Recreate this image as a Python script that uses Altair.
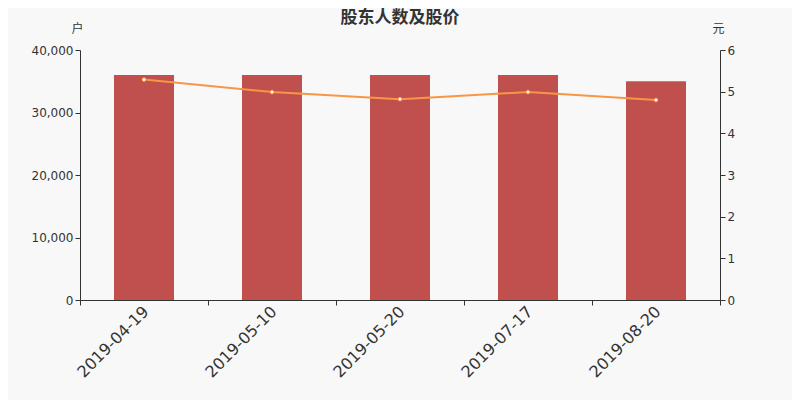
import altair as alt
import pandas as pd

dates = ["2019-04-19", "2019-05-10", "2019-05-20", "2019-07-17", "2019-08-20"]
holders = [36000, 36000, 36000, 36000, 35000]
prices = [5.29, 4.99, 4.82, 4.99, 4.80]

df = pd.DataFrame({"date": dates, "holders": holders, "price": prices})

FONT = "DejaVu Sans, Noto Sans CJK SC, sans-serif"

x = alt.X("date:N", sort=dates, title=None,
          scale=alt.Scale(paddingInner=0, paddingOuter=0),
          axis=alt.Axis(labelAngle=-45, labelFontSize=16, labelColor="#333",
                        tickBand="extent", domainColor="#333", tickColor="#333",
                        labelPadding=-2, labelOffset=-4))

bars = alt.Chart(df).mark_bar(color="#c0504d", size=60).encode(
    x=x,
    y=alt.Y("holders:Q", scale=alt.Scale(domain=[0, 40000]),
            axis=alt.Axis(values=[0, 10000, 20000, 30000, 40000], format=",d",
                          title="户", titleAngle=0, titleAlign="center",
                          titleBaseline="middle", titleX=-3, titleY=-22,
                          titleFontWeight="normal", titleFontSize=12,
                          labelFontSize=12, labelColor="#333", titleColor="#333",
                          domainColor="#333", tickColor="#333", grid=False))
)

yp = alt.Y("price:Q", scale=alt.Scale(domain=[0, 6]),
           axis=alt.Axis(orient="right", values=[0, 1, 2, 3, 4, 5, 6],
                         title="元", titleAngle=0, titleAlign="center",
                         titleBaseline="middle", titleX=-2, titleY=-22,
                         titleFontWeight="normal", titleFontSize=12,
                         labelFontSize=12, labelColor="#333", titleColor="#333",
                         domainColor="#333", tickColor="#333", grid=False))

line = alt.Chart(df).mark_line(color="#f79646", strokeWidth=2).encode(x=x, y=yp)
pts = alt.Chart(df).mark_point(filled=True, fill="white", stroke="#f79646",
                               strokeWidth=1, size=14, opacity=1).encode(x=x, y=yp)

chart = alt.layer(bars, line + pts).resolve_scale(y="independent").properties(
    width=640, height=250,
    autosize=alt.AutoSizeParams(type="none"),
    padding={"left": 72, "top": 42, "right": 72, "bottom": 100},
    title=alt.TitleParams("股东人数及股价", fontSize=17, fontWeight="bold",
                          color="#333", anchor="middle", offset=1, dy=6),
    background="#f8f8f8",
).configure(font=FONT).configure_view(stroke=None)

chart.save("out.html", embed_options={"renderer": "svg", "actions": False})
